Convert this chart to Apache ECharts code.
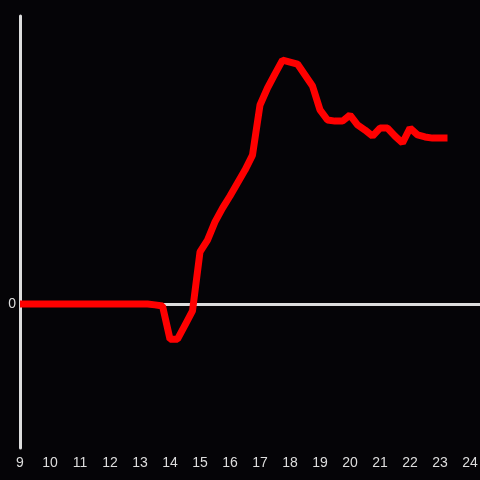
<!DOCTYPE html>
<html>
<head>
<meta charset="utf-8">
<script src="https://cdn.jsdelivr.net/npm/echarts@6/dist/echarts.min.js"></script>
<style>
html,body{margin:0;padding:0;background:#050407;overflow:hidden;}
#c{width:480px;height:480px;}
</style>
</head>
<body>
<div id="c"></div>
<script>
var hours = [9, 9.25, 9.5, 9.75, 10, 10.25, 10.5, 10.75, 11, 11.25, 11.5, 11.75, 12, 12.25, 12.5, 12.75, 13, 13.25,
  13.5, 13.75, 14, 14.25, 14.5, 14.75, 15, 15.25, 15.5, 15.75, 16, 16.25, 16.5, 16.75,
  17, 17.25, 17.5, 17.75, 18, 18.25, 18.5, 18.75, 19, 19.25, 19.5, 19.75, 20, 20.25, 20.5, 20.75,
  21, 21.25, 21.5, 21.75, 22, 22.25, 22.5, 22.75, 23, 23.25];
var values = [0, 0, 0, 0, 0, 0, 0, 0, 0, 0, 0, 0, 0, 0, 0, 0, 0, 0,
  -0.3, -0.7, -12.2, -12.2, -7.3, -2.4, 18.1, 22.2, 28.5, 33.3, 37.5, 42.0, 46.5, 51.7,
  69.1, 75.0, 79.9, 84.7, 84.0, 83.3, 79.5, 75.7, 67.4, 63.9, 63.5, 63.5, 65.6, 62.2, 60.4, 58.3,
  61.1, 61.1, 58.3, 55.9, 61.1, 58.7, 58.0, 57.6, 57.6, 57.6];
var xTicks = [9, 10, 11, 12, 13, 14, 15, 16, 17, 18, 19, 20, 21, 22, 23, 24];
var yTickShown = [0];

var data = hours.map(function (h, i) { return [h, values[i]]; });
var chart = echarts.init(document.getElementById('c'), null, {renderer: 'canvas', width: 480, height: 480});
chart.setOption({
  backgroundColor: '#050407',
  animation: false,
  grid: {left: 20, right: 0, top: 16, bottom: 32, containLabel: false, outerBoundsMode: 'none'},
  xAxis: {
    type: 'value', min: 9, max: 24.333, interval: 1,
    axisLine: {show: false, onZero: false},
    axisTick: {show: false},
    splitLine: {show: false},
    axisLabel: {
      color: '#dddddd', fontSize: 14, margin: 8, fontFamily: 'Liberation Sans, Arial, sans-serif',
      showMaxLabel: true,
      formatter: function (v) { return xTicks.indexOf(v) >= 0 ? String(v) : ''; }
    }
  },
  yAxis: {
    type: 'value', min: -50, max: 100, interval: 50,
    axisLine: {show: true, lineStyle: {color: '#dddddd', width: 3}},
    axisTick: {show: false},
    splitLine: {show: false},
    axisLabel: {
      color: '#dddddd', fontSize: 14, margin: 4, fontFamily: 'Liberation Sans, Arial, sans-serif',
      formatter: function (v) { return yTickShown.indexOf(v) >= 0 ? String(v) : ''; }
    }
  },
  series: [{
    type: 'line',
    data: data,
    showSymbol: false,
    lineStyle: {color: '#ff0000', width: 7},
    z: 3,
    markLine: {
      silent: true,
      symbol: 'none',
      label: {show: false},
      lineStyle: {color: '#dddddd', width: 3, type: 'solid'},
      z: 1,
      data: [{yAxis: 0}]
    }
  }]
});
</script>
</body>
</html>
